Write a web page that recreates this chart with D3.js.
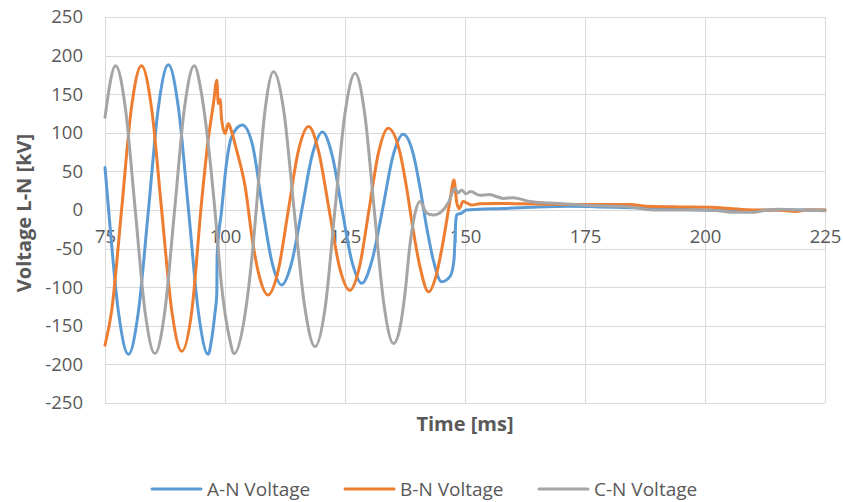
<!DOCTYPE html>
<html>
<head>
<meta charset="utf-8">
<script src="https://cdn.jsdelivr.net/npm/d3@7"></script>
<style>
  html, body { margin: 0; padding: 0; background: #ffffff; }
  svg { display: block; font-family: "Open Sans", "Liberation Sans", sans-serif; }
</style>
</head>
<body>
<svg id="chart" width="843" height="502"></svg>
<script>
// ---------- data (time in ms, voltage in kV) ----------
const seriesNames = ["A-N Voltage", "B-N Voltage", "C-N Voltage"];
const seriesColors = ["#5B9BD5", "#ED7D31", "#A5A5A5"];
const xTicks = [75, 100, 125, 150, 175, 200, 225];
const yTicks = [-250, -200, -150, -100, -50, 0, 50, 100, 150, 200, 250];

const aData = [
  [75.0, 55], [75.75, 0], [77.8, -132], [79.9, -187], [81.95, -132], [84.05, 0],
  [86.1, 132], [88.2, 188], [90.3, 132], [92.4, 0], [94.45, -132], [96.5, -187],
  [97.2, -168], [97.9, -134], [98.3, -108], [98.35, -60], [99.3, 0], [100.3, 60],
  [101.4, 95], [103.6, 110], [105.7, 85], [107.8, 3], [109.8, -68], [111.8, -97],
  [113.9, -68], [116.0, 0], [118.2, 72], [120.3, 101], [122.35, 70], [124.4, 0],
  [126.45, -67], [128.5, -95], [130.6, -66], [132.8, 0], [135.0, 70], [137.1, 98],
  [139.2, 73], [140.6, 30], [142.0, -22], [143.4, -65], [145.1, -93], [146.9, -86],
  [147.7, -65], [148.1, -13], [148.3, -6], [149.3, -4], [150.3, 0], [153.0, 1],
  [158.0, 2], [165.0, 4], [172.0, 5], [178.0, 4], [185.0, 3], [195.0, 1],
  [205.0, -1], [215.0, 0], [225.0, 0]
];

const bData = [
  [75.0, -175], [76.4, -130], [78.45, 0], [80.5, 132], [82.6, 187], [84.7, 132],
  [86.8, 0], [88.9, -130], [91.0, -183], [93.1, -130], [95.1, 9], [96.5, 91],
  [97.6, 138], [98.3, 168], [98.6, 138], [99.0, 143], [99.3, 117], [100.0, 99],
  [100.7, 112], [101.4, 101], [102.4, 78], [104.2, 30], [105.9, -47], [107.0, -82],
  [109.0, -110], [111.1, -78], [113.2, 0], [115.3, 77], [117.4, 108], [119.5, 76],
  [121.7, 0], [123.85, -74], [126.0, -104], [128.0, -74], [130.0, 0], [132.0, 75],
  [134.0, 106], [136.5, 73], [137.8, 30], [139.2, -26], [140.6, -73], [142.4, -106],
  [144.1, -82], [145.5, -39], [146.9, 13], [147.7, 39], [148.3, 9], [148.8, 2],
  [149.6, 11], [151.4, 6.5], [153.1, 8], [156.6, 8.5], [162.0, 8], [167.0, 7.5],
  [172.0, 7], [177.4, 7], [184.4, 7], [187.8, 5], [195.0, 4], [201.0, 3.5],
  [205.0, 2], [210.0, 0], [215.0, 0], [219.0, -2], [221.0, 0], [225.0, 0]
];

const cData = [
  [75.0, 120], [77.2, 187], [79.25, 132], [81.3, 0], [83.35, -132], [85.4, -186],
  [87.45, -132], [89.5, 0], [91.55, 132], [93.6, 187], [95.1, 151], [96.5, 86],
  [97.9, 0], [99.3, -99], [101.0, -168], [101.9, -186], [104.2, -134], [105.9, -43],
  [106.5, 0], [108.3, 127], [110.1, 179], [112.3, 126], [114.4, 0], [116.6, -125],
  [118.75, -177], [120.9, -125], [122.9, 0], [125.0, 125], [127.1, 177], [129.1, 125],
  [131.1, 0], [133.1, -122], [135.1, -173], [136.5, -151], [137.5, -108], [138.5, -47],
  [139.6, -4], [140.6, 11], [142.0, -4], [143.4, -6.5], [145.1, -2], [146.5, 9],
  [147.9, 28], [148.6, 22], [149.3, 26], [150.2, 21], [151.2, 24], [153.1, 19],
  [155.0, 20], [158.0, 15], [160.0, 16], [163.5, 11], [168.0, 9],
  [174.0, 6.5], [178.0, 5.5], [182.3, 5], [184.4, 4], [189.2, 0], [195.0, 0],
  [199.6, 0], [203.0, -1], [205.9, -3], [210.0, -3], [213.0, 0], [215.0, 1],
  [219.8, 0], [225.0, -1]
];

const allSeries = [aData, bData, cData];

// ---------- layout ----------
const svg = d3.select("#chart");
const plot = { left: 105, right: 825, top: 17, bottom: 403 };
const textColor = "#595959";
const gridColor = "#D9D9D9";

const x = d3.scaleLinear().domain([75, 225]).range([plot.left, plot.right]);
const y = d3.scaleLinear().domain([-250, 250]).range([plot.bottom, plot.top]);

// grid
svg.append("g").selectAll("line.h").data(yTicks).join("line")
  .attr("x1", plot.left).attr("x2", plot.right)
  .attr("y1", d => Math.round(y(d)) + 0.5).attr("y2", d => Math.round(y(d)) + 0.5)
  .attr("stroke", gridColor).attr("stroke-width", 1);
svg.append("g").selectAll("line.v").data(xTicks).join("line")
  .attr("x1", d => Math.round(x(d)) + 0.5).attr("x2", d => Math.round(x(d)) + 0.5)
  .attr("y1", plot.top).attr("y2", plot.bottom)
  .attr("stroke", gridColor).attr("stroke-width", 1);

// y axis labels (plain hyphen minus, as in the reference)
const yAxis = svg.append("g")
  .attr("transform", `translate(${plot.left},0)`)
  .call(d3.axisLeft(y).tickValues(yTicks).tickSize(0).tickPadding(22).tickFormat(d => String(d)));
yAxis.select(".domain").remove();
yAxis.selectAll("text").attr("fill", textColor).style("font-size", "18.5px")
  .style("font-family", '"Open Sans", sans-serif');

// x axis labels (crossing at 0)
const xAxis = svg.append("g")
  .attr("transform", `translate(0,${y(0)})`)
  .call(d3.axisBottom(x).tickValues(xTicks).tickSize(0).tickPadding(20).tickFormat(d => String(d)));
xAxis.select(".domain").remove();
xAxis.selectAll("text").attr("fill", textColor).style("font-size", "18.5px")
  .style("font-family", '"Open Sans", sans-serif');

// series lines
const line = d3.line().x(d => x(d[0])).y(d => y(d[1])).curve(d3.curveMonotoneX);
svg.append("g").selectAll("path").data(allSeries).join("path")
  .attr("d", d => line(d))
  .attr("fill", "none")
  .attr("stroke", (d, i) => seriesColors[i])
  .attr("stroke-width", 3)
  .attr("stroke-linejoin", "round")
  .attr("stroke-linecap", "round");

// axis titles
svg.append("text")
  .attr("transform", "translate(31,213) rotate(-90)")
  .attr("text-anchor", "middle")
  .attr("fill", textColor)
  .style("font-size", "20px").style("font-weight", "bold")
  .text("Voltage L-N [kV]");

svg.append("text")
  .attr("x", 465).attr("y", 431)
  .attr("text-anchor", "middle")
  .attr("fill", textColor)
  .style("font-size", "20px").style("font-weight", "bold")
  .text("Time [ms]");

// legend
const legendX = [152, 345, 539];
const legend = svg.append("g").selectAll("g").data(seriesNames).join("g")
  .attr("transform", (d, i) => `translate(${legendX[i]},489)`);
legend.append("line")
  .attr("x1", 0).attr("x2", 49).attr("y1", 0).attr("y2", 0)
  .attr("stroke", (d, i) => seriesColors[i]).attr("stroke-width", 3)
  .attr("stroke-linecap", "round");
legend.append("text")
  .attr("x", 55).attr("y", 7)
  .attr("fill", textColor)
  .style("font-size", "19px")
  .text(d => d);
</script>
</body>
</html>
